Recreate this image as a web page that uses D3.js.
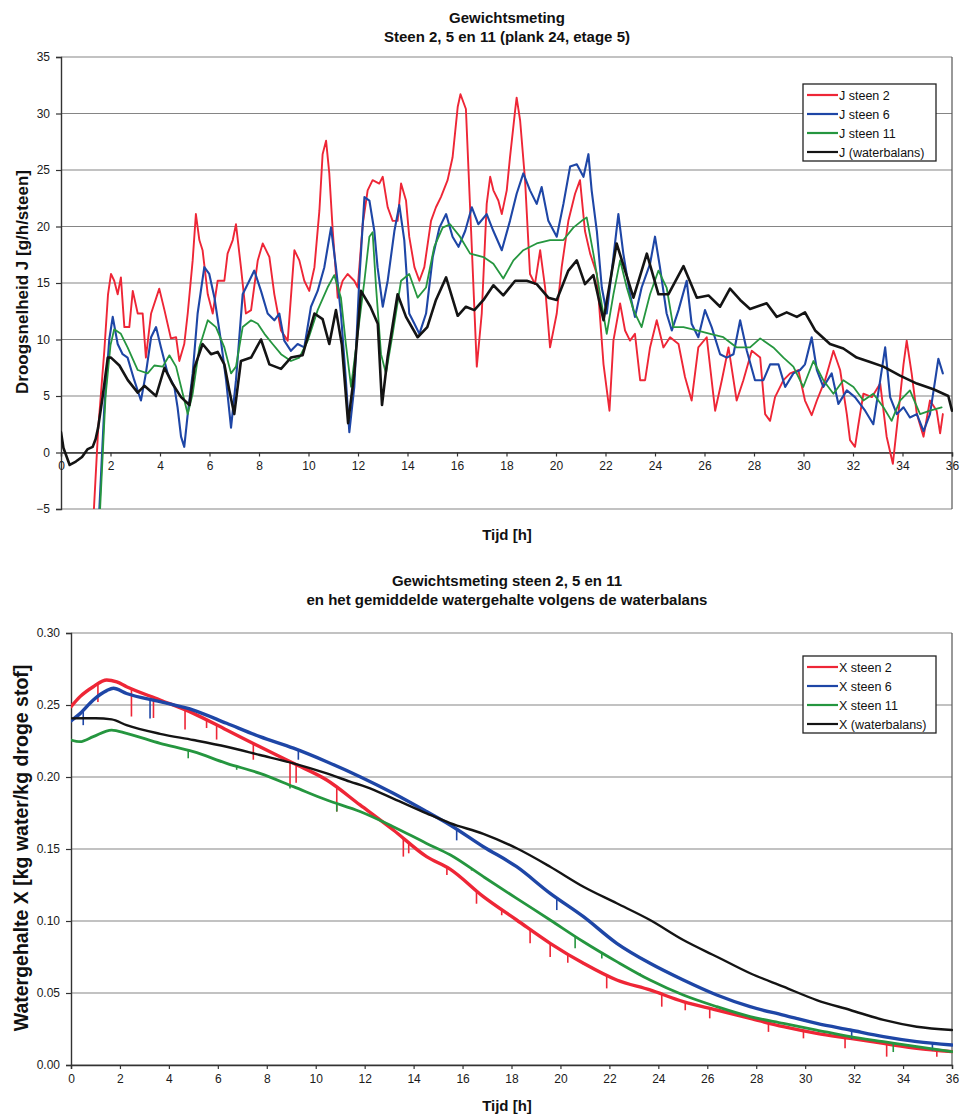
<!DOCTYPE html>
<html>
<head>
<meta charset="utf-8">
<script src="https://cdn.jsdelivr.net/npm/d3@7"></script>
<style>
  body { margin: 0; background: #fff; }
  text { font-family: "Liberation Sans", Arial, sans-serif; }
</style>
</head>
<body>
<svg id="chart" width="965" height="1116"></svg>
<script>
// ---------- Droogsnelheid J [g/h/steen] per tijdstip [h] ----------
const jSteen2 = [[1.33,-5],[1.5,2],[1.75,9],[1.9,14],[2.02,15.8],[2.15,15.2],[2.29,14.0],[2.42,15.5],[2.56,11.1],[2.76,11.1],[2.9,14.3],[3.1,12.3],[3.3,12.3],[3.43,8.4],[3.64,12.3],[3.97,14.5],[4.18,12.6],[4.44,10.1],[4.65,10.2],[4.78,8.1],[4.98,9.6],[5.12,12.3],[5.32,17.0],[5.45,21.1],[5.59,18.8],[5.72,17.9],[5.93,14.0],[6.13,12.3],[6.33,15.2],[6.6,15.2],[6.73,17.6],[6.94,18.8],[7.07,20.2],[7.27,16.4],[7.47,12.3],[7.68,12.6],[7.95,17.0],[8.15,18.5],[8.42,17.3],[8.62,14.0],[8.89,10.8],[9.16,9.9],[9.43,17.9],[9.63,17.0],[9.83,15.2],[10.03,14.3],[10.24,16.4],[10.44,21.4],[10.57,26.4],[10.71,27.6],[10.84,24.7],[10.98,19.6],[11.18,13.7],[11.38,15.2],[11.58,15.8],[11.85,15.2],[11.99,14.6],[12.19,20.2],[12.39,23.2],[12.59,24.1],[12.86,23.8],[13.0,24.4],[13.2,21.7],[13.4,20.5],[13.6,20.5],[13.74,23.8],[13.94,22.3],[14.07,19.1],[14.28,16.4],[14.48,15.2],[14.68,16.4],[14.95,20.5],[15.15,21.7],[15.35,22.6],[15.62,24.1],[15.82,26.1],[16.03,30.6],[16.14,31.7],[16.36,30.4],[16.57,19.6],[16.8,7.6],[17.0,12.3],[17.2,22.0],[17.34,24.4],[17.47,23.2],[17.67,22.3],[17.81,21.1],[18.01,23.2],[18.14,26.1],[18.35,30.3],[18.41,31.4],[18.55,29.4],[18.75,24.1],[18.95,15.8],[19.15,14.9],[19.36,17.9],[19.56,14.6],[19.76,9.3],[20.03,12.3],[20.23,16.4],[20.5,20.5],[20.77,22.9],[20.97,24.1],[21.17,19.6],[21.38,17.6],[21.65,15.8],[21.92,7.8],[22.16,3.7],[22.32,9.9],[22.59,13.2],[22.79,10.8],[22.99,9.9],[23.19,10.5],[23.4,6.4],[23.6,6.4],[23.8,9.3],[24.07,11.7],[24.34,9.3],[24.61,10.2],[24.95,9.6],[25.21,6.7],[25.48,4.6],[25.75,9.3],[26.09,10.2],[26.43,3.7],[26.7,6.4],[26.97,9.3],[27.3,4.6],[27.57,6.4],[27.91,9.0],[28.25,8.4],[28.45,3.4],[28.65,2.8],[28.85,4.9],[29.19,6.4],[29.46,7.0],[29.79,7.3],[30.06,4.6],[30.33,3.3],[30.54,4.6],[30.87,6.4],[31.21,9.0],[31.48,7.3],[31.75,3.4],[31.88,1.1],[32.08,0.5],[32.22,2.5],[32.42,5.2],[32.76,4.9],[33.1,6.1],[33.36,1.4],[33.61,-1.0],[33.83,3.4],[34.04,7.8],[34.17,9.9],[34.37,7.0],[34.58,3.4],[34.85,1.4],[35.11,4.6],[35.38,3.7],[35.52,1.7],[35.63,3.4]];

const jSteen6 = [[1.55,-5],[1.75,4],[1.95,10],[2.09,12.0],[2.29,9.6],[2.49,8.7],[2.69,8.4],[2.96,6.4],[3.23,4.6],[3.43,7.0],[3.64,10.2],[3.84,11.1],[4.04,9.3],[4.31,7.0],[4.58,5.8],[4.71,4.0],[4.85,1.4],[4.98,0.5],[5.12,3.4],[5.32,7.0],[5.52,12.3],[5.79,16.4],[5.99,15.8],[6.2,13.7],[6.46,9.9],[6.67,6.4],[6.87,2.2],[7.07,6.4],[7.34,14.0],[7.61,15.2],[7.81,16.1],[8.08,14.3],[8.35,12.3],[8.62,11.7],[8.82,12.3],[9.02,9.9],[9.29,9.0],[9.56,9.6],[9.83,9.3],[10.1,12.9],[10.37,14.3],[10.64,16.4],[10.91,19.9],[11.11,16.4],[11.31,12.3],[11.51,6.4],[11.65,1.8],[11.85,5.8],[12.05,15.2],[12.26,22.6],[12.46,22.3],[12.66,19.6],[12.79,16.4],[13.0,12.9],[13.2,15.2],[13.47,19.6],[13.67,21.9],[13.87,18.8],[14.07,12.3],[14.28,11.4],[14.48,10.5],[14.75,12.3],[15.02,17.3],[15.29,19.9],[15.56,21.1],[15.82,19.1],[16.06,18.2],[16.33,19.6],[16.6,21.7],[16.86,20.2],[17.2,21.1],[17.47,19.6],[17.81,17.9],[18.14,20.5],[18.41,22.9],[18.68,24.7],[18.95,23.2],[19.22,22.0],[19.42,23.5],[19.69,20.5],[20.03,19.1],[20.3,22.0],[20.57,25.3],[20.84,25.5],[21.11,24.4],[21.31,26.4],[21.44,23.2],[21.65,19.6],[21.85,14.6],[22.05,12.3],[22.32,17.3],[22.52,21.1],[22.72,17.6],[22.99,14.0],[23.19,12.0],[23.46,14.6],[23.8,16.7],[24.0,19.1],[24.2,16.4],[24.47,12.3],[24.68,10.8],[24.95,12.6],[25.28,15.2],[25.48,11.4],[25.75,10.2],[26.02,12.6],[26.29,11.1],[26.63,8.7],[26.9,8.4],[27.17,8.7],[27.44,11.7],[27.71,9.0],[28.04,6.4],[28.38,6.4],[28.65,7.8],[28.99,7.8],[29.26,5.8],[29.59,7.0],[29.86,7.3],[30.06,7.8],[30.33,10.2],[30.54,7.3],[30.8,5.8],[31.14,7.0],[31.41,4.3],[31.75,5.5],[32.08,4.9],[32.49,3.7],[32.82,2.5],[33.1,6.4],[33.3,9.3],[33.5,4.9],[33.77,3.4],[34.04,4.0],[34.3,3.1],[34.58,3.4],[34.85,1.9],[35.11,3.4],[35.32,6.4],[35.45,8.3],[35.63,7.0]];

const jSteen11 = [[1.58,-5],[1.8,5],[2.0,9.5],[2.15,10.9],[2.42,10.5],[2.69,9.3],[3.1,7.3],[3.5,7.0],[3.77,7.7],[4.11,7.6],[4.38,8.6],[4.65,7.6],[4.92,5.2],[5.12,3.4],[5.32,5.2],[5.59,9.3],[5.93,11.7],[6.26,11.1],[6.6,9.3],[6.87,7.0],[7.07,7.6],[7.34,11.1],[7.68,11.7],[7.95,11.4],[8.22,10.5],[8.55,9.6],[8.89,8.7],[9.29,8.1],[9.63,8.4],[9.97,9.9],[10.37,12.6],[10.77,14.6],[11.04,15.7],[11.31,13.7],[11.51,9.6],[11.72,5.8],[11.99,10.5],[12.26,15.2],[12.46,19.1],[12.59,19.5],[12.73,14.6],[12.93,8.7],[13.13,7.0],[13.4,10.5],[13.74,15.2],[14.07,15.8],[14.41,13.7],[14.75,14.6],[15.08,18.2],[15.42,19.9],[15.72,20.2],[16.12,19.1],[16.53,17.6],[17.07,17.3],[17.47,16.7],[17.87,15.4],[18.28,17.0],[18.68,17.9],[19.22,18.5],[19.76,18.8],[20.3,18.8],[20.7,19.9],[21.04,20.5],[21.24,20.8],[21.51,17.6],[21.78,14.0],[22.05,10.5],[22.32,14.0],[22.59,17.0],[22.86,14.6],[23.13,12.6],[23.46,11.1],[23.8,14.0],[24.14,16.1],[24.47,14.6],[24.74,11.1],[25.15,11.1],[25.69,10.8],[26.23,10.5],[26.76,10.2],[27.3,9.3],[27.84,9.3],[28.25,10.1],[28.78,9.3],[29.19,8.4],[29.59,7.6],[29.99,5.8],[30.4,8.1],[30.8,6.4],[31.21,5.2],[31.61,6.4],[32.02,5.8],[32.42,4.6],[32.82,5.2],[33.23,4.0],[33.56,2.8],[33.9,4.6],[34.3,5.5],[34.71,3.4],[35.11,3.7],[35.58,4.0]];

const jWaterbalans = [[0,1.8],[0.1,0.4],[0.35,-1.1],[0.6,-0.8],[0.85,-0.4],[1.08,0.3],[1.28,0.5],[1.4,1.2],[1.5,2.2],[1.68,4.9],[1.89,8.4],[2.02,8.4],[2.36,7.7],[2.7,6.4],[3.1,5.3],[3.37,5.9],[3.84,5.0],[4.18,7.5],[4.5,6.1],[4.85,4.9],[5.19,4.2],[5.39,7.5],[5.72,9.6],[6.06,8.7],[6.33,8.9],[6.6,7.8],[6.8,5.5],[7.0,3.4],[7.27,8.1],[7.68,8.4],[8.08,10.0],[8.42,7.8],[8.89,7.4],[9.29,8.4],[9.76,8.6],[10.24,12.3],[10.57,11.8],[10.84,9.6],[11.11,12.6],[11.35,9.5],[11.6,2.6],[11.85,7.0],[12.12,14.3],[12.5,12.9],[12.8,11.4],[12.97,4.2],[13.2,8.5],[13.6,14.0],[13.94,12.0],[14.41,10.2],[14.8,11.1],[15.15,13.5],[15.56,15.5],[16.03,12.1],[16.36,12.9],[16.7,12.6],[17.07,13.5],[17.47,14.8],[17.87,13.9],[18.35,15.2],[18.82,15.2],[19.22,14.9],[19.69,13.7],[20.03,13.5],[20.5,16.1],[20.84,17.0],[21.17,14.9],[21.51,15.7],[21.92,11.7],[22.45,18.5],[23.13,13.7],[23.67,17.6],[24.14,14.0],[24.54,14.0],[25.15,16.5],[25.69,13.7],[26.16,13.9],[26.63,12.9],[27.03,14.5],[27.44,13.5],[27.84,12.7],[28.51,13.2],[28.92,12.0],[29.32,12.4],[29.73,12.0],[30.06,12.4],[30.47,10.8],[31.07,9.6],[31.61,9.2],[32.15,8.4],[32.69,8.0],[33.23,7.6],[33.9,6.8],[34.58,6.1],[35.25,5.6],[35.85,5.0],[36.0,3.7]];

// ---------- Watergehalte X [kg water/kg droge stof] per tijdstip [h] ----------
const xSteen2 = [[0,0.2488],[0.37,0.2558],[0.91,0.2627],[1.46,0.2674],[1.87,0.266],[2.27,0.2627],[3.64,0.2535],[5.0,0.2442],[6.36,0.2326],[7.72,0.221],[9.09,0.2095],[10.45,0.1979],[11.81,0.1806],[13.17,0.1632],[14.53,0.1447],[15.49,0.136],[16.85,0.1169],[18.21,0.1007],[19.58,0.0845],[20.94,0.0706],[22.3,0.059],[23.66,0.0521],[25.02,0.044],[26.39,0.0382],[27.75,0.0324],[29.11,0.0266],[30.47,0.022],[31.84,0.0185],[33.2,0.015],[34.56,0.0116],[36.0,0.0093]];
const xSteen6 = [[0,0.239],[0.37,0.244],[0.91,0.2535],[1.46,0.26],[1.73,0.2616],[2.27,0.258],[3.64,0.2523],[5.0,0.2465],[6.36,0.2373],[7.72,0.228],[9.09,0.22],[10.45,0.2106],[11.81,0.2002],[13.17,0.1887],[14.53,0.176],[15.49,0.1667],[16.85,0.1516],[18.21,0.1377],[19.58,0.1192],[20.94,0.103],[22.3,0.0845],[23.66,0.0706],[25.02,0.059],[26.39,0.0486],[27.75,0.0405],[29.11,0.0347],[30.47,0.0289],[31.84,0.0243],[33.2,0.0197],[34.56,0.0162],[36.0,0.0139]];
const xSteen11 = [[0,0.2257],[0.37,0.2245],[0.91,0.228],[1.66,0.2326],[2.27,0.2303],[3.64,0.2234],[5.0,0.2176],[6.36,0.2095],[7.72,0.2025],[9.09,0.1933],[10.45,0.184],[11.81,0.176],[13.17,0.1655],[14.53,0.1539],[15.49,0.146],[16.85,0.1308],[18.21,0.1157],[19.58,0.1007],[20.94,0.0856],[22.3,0.0718],[23.66,0.059],[25.02,0.0486],[26.39,0.0405],[27.75,0.0336],[29.11,0.0289],[30.47,0.0243],[31.84,0.0197],[33.2,0.0162],[34.56,0.0127],[36.0,0.0093]];
const xWaterbalans = [[0,0.2407],[0.5,0.2408],[1.0,0.2408],[1.66,0.24],[2.27,0.236],[3.64,0.23],[5.0,0.2257],[6.36,0.221],[7.72,0.2153],[9.09,0.2095],[10.45,0.2025],[11.4,0.1968],[12.08,0.193],[13.17,0.185],[14.53,0.1748],[15.49,0.168],[16.85,0.1605],[18.21,0.1505],[19.58,0.1377],[20.94,0.1238],[22.3,0.1123],[23.66,0.1007],[25.02,0.0868],[26.39,0.0752],[27.75,0.0637],[29.11,0.0544],[30.47,0.0451],[31.84,0.0382],[33.2,0.0313],[34.56,0.0266],[36.0,0.0243]];

// short downward excursions of the weighed stones: [tijd, minimum X]
const xSteen2Dips = [[1.1,0.252],[2.47,0.242],[3.37,0.241],[4.66,0.233],[5.54,0.234],[5.95,0.226],[7.45,0.212],[8.95,0.193],[9.2,0.196],[10.86,0.176],[13.58,0.1447],[13.8,0.147],[15.36,0.132],[16.57,0.112],[17.6,0.104],[18.76,0.0845],[19.58,0.075],[20.3,0.071],[21.89,0.0532],[24.14,0.0405],[25.1,0.038],[26.1,0.0324],[28.5,0.023],[29.93,0.0185],[31.63,0.0116],[33.33,0.0058],[35.38,0.0058]];
const xSteen6Dips = [[0.5,0.236],[3.23,0.2407],[9.29,0.212],[15.76,0.156],[19.85,0.1076],[31.9,0.018],[35.2,0.010]];
const xSteen11Dips = [[4.79,0.213],[6.77,0.205],[8.95,0.192],[10.86,0.176],[16.37,0.135],[20.19,0.094],[20.6,0.081],[21.69,0.074],[23.25,0.0637],[33.6,0.009]];

// ---------- axes and labels ----------
const hourTicks = [0,2,4,6,8,10,12,14,16,18,20,22,24,26,28,30,32,34,36];
const jTicks = [-5,0,5,10,15,20,25,30,35];
const xTicks = [0,0.05,0.10,0.15,0.20,0.25,0.30];
const jLegend = ["J steen 2","J steen 6","J steen 11","J (waterbalans)"];
const xLegend = ["X steen 2","X steen 6","X steen 11","X (waterbalans)"];
const seriesColors = ["#ee2636","#1e46a6","#25963f","#141414"];
const seriesWidths = [1.9, 2.1, 1.8, 2.6];

const svg = d3.select("#chart");

function panel(cfg) {
  const x = d3.scaleLinear().domain([0, 36]).range([cfg.left, cfg.right]);
  const y = d3.scaleLinear().domain(cfg.yDomain).range([cfg.bottom, cfg.top]);
  const g = svg.append("g");

  // titles
  cfg.title.forEach((t, i) => {
    g.append("text").attr("x", 507).attr("y", cfg.titleY + i * 19)
      .attr("text-anchor", "middle").attr("font-size", 15).attr("font-weight", "bold")
      .attr("fill", "#111").text(t);
  });

  // horizontal gridlines
  g.selectAll(".grid").data(cfg.yTicks).join("line")
    .attr("x1", cfg.left).attr("x2", cfg.right)
    .attr("y1", d => y(d)).attr("y2", d => y(d))
    .attr("stroke", "#858585").attr("stroke-width", 1.1);
  // right border
  g.append("line").attr("x1", cfg.right).attr("x2", cfg.right)
    .attr("y1", cfg.top).attr("y2", cfg.bottom).attr("stroke", "#555").attr("stroke-width", 1.2);

  // y axis
  const yAxis = d3.axisLeft(y).tickValues(cfg.yTicks).tickSize(5).tickPadding(6).tickFormat(cfg.yFormat);
  const ya = g.append("g").attr("transform", `translate(${cfg.left},0)`).call(yAxis);
  ya.select(".domain").attr("stroke", "#333").attr("stroke-width", 1.4);
  ya.selectAll(".tick line").attr("stroke", "#333").attr("stroke-width", 1.2);
  ya.selectAll("text").attr("font-size", 12).attr("fill", "#1a1a1a")
    .attr("font-family", "Liberation Sans, Arial, sans-serif");

  // x axis on the zero line
  const xAxis = d3.axisBottom(x).tickValues(hourTicks).tickSize(4).tickPadding(5).tickFormat(d3.format("d"));
  const xa = g.append("g").attr("transform", `translate(0,${y(cfg.xAxisAt)})`).call(xAxis);
  xa.select(".domain").attr("stroke", "#333").attr("stroke-width", 1.4);
  xa.selectAll(".tick line").attr("stroke", "#333").attr("stroke-width", 1.2);
  xa.selectAll("text").attr("font-size", 12).attr("fill", "#1a1a1a")
    .attr("font-family", "Liberation Sans, Arial, sans-serif");

  // axis titles
  g.append("text").attr("x", 507).attr("y", cfg.xTitleY).attr("text-anchor", "middle")
    .attr("font-size", 15).attr("font-weight", "bold").attr("fill", "#111").text("Tijd [h]");
  g.append("text").attr("transform", `translate(${cfg.yTitleX},${cfg.yTitleMid}) rotate(-90)`)
    .attr("text-anchor", "middle").attr("font-size", cfg.yTitleSize).attr("font-weight", "bold")
    .attr("fill", "#111").text(cfg.yTitle);

  // data lines, clipped to the plot area
  const clipId = "clip" + cfg.id;
  svg.append("clipPath").attr("id", clipId).append("rect")
    .attr("x", cfg.left).attr("y", cfg.top - 2)
    .attr("width", cfg.right - cfg.left + 1).attr("height", cfg.bottom - cfg.top + 2);
  const lines = g.append("g").attr("clip-path", `url(#${clipId})`);
  const line = d3.line().x(d => x(d[0])).y(d => y(d[1])).curve(cfg.curve);
  const at = (s, t) => {
    const i = Math.max(1, d3.bisector(d => d[0]).left(s, t));
    const a = s[i - 1], b = s[Math.min(i, s.length - 1)];
    const f = b[0] === a[0] ? 0 : (t - a[0]) / (b[0] - a[0]);
    return a[1] + f * (b[1] - a[1]);
  };
  cfg.series.forEach((s, i) => {
    lines.append("path").datum(s).attr("d", line).attr("fill", "none")
      .attr("stroke", seriesColors[i]).attr("stroke-width", cfg.widths[i])
      .attr("stroke-linejoin", "round").attr("stroke-linecap", "round");
    if (cfg.dips && cfg.dips[i]) {
      lines.selectAll(null).data(cfg.dips[i]).join("line")
        .attr("x1", d => x(d[0])).attr("x2", d => x(d[0]))
        .attr("y1", d => y(at(s, d[0]))).attr("y2", d => y(d[1]))
        .attr("stroke", seriesColors[i]).attr("stroke-width", 1.6);
    }
  });

  // legend
  const lg = g.append("g");
  lg.append("rect").attr("x", cfg.legend.x).attr("y", cfg.legend.y)
    .attr("width", cfg.legend.w).attr("height", 77)
    .attr("fill", "#fff").attr("stroke", "#222").attr("stroke-width", 1.3);
  cfg.legendLabels.forEach((lab, i) => {
    const ry = cfg.legend.y + 11 + i * 19;
    lg.append("line").attr("x1", cfg.legend.x + 4).attr("x2", cfg.legend.x + 35)
      .attr("y1", ry).attr("y2", ry).attr("stroke", seriesColors[i]).attr("stroke-width", 2.2);
    lg.append("text").attr("x", cfg.legend.x + 36).attr("y", ry + 4.5)
      .attr("font-size", 12.5).attr("fill", "#111").text(lab);
  });
}

panel({
  id: "J", left: 61, right: 952, top: 57, bottom: 509,
  yDomain: [-5, 35], yTicks: jTicks, yFormat: d3.format("d"), xAxisAt: 0,
  title: ["Gewichtsmeting", "Steen 2, 5 en 11 (plank 24, etage 5)"], titleY: 23,
  xTitleY: 540, yTitle: "Droogsnelheid J [g/h/steen]", yTitleX: 28, yTitleMid: 282, yTitleSize: 17,
  series: [jSteen2, jSteen6, jSteen11, jWaterbalans], widths: seriesWidths,
  curve: d3.curveLinear,
  legend: { x: 803, y: 84, w: 133 }, legendLabels: jLegend
});

panel({
  id: "X", left: 71, right: 952, top: 633, bottom: 1065,
  yDomain: [0, 0.30], yTicks: xTicks, yFormat: d3.format(".2f"), xAxisAt: 0,
  title: ["Gewichtsmeting steen 2, 5 en 11", "en het gemiddelde watergehalte volgens de waterbalans"], titleY: 586,
  xTitleY: 1111, yTitle: "Watergehalte X [kg water/kg droge stof]", yTitleX: 28, yTitleMid: 848, yTitleSize: 19.5,
  series: [xSteen2, xSteen6, xSteen11, xWaterbalans], widths: [3.4, 3.4, 2.8, 2.4],
  dips: [xSteen2Dips, xSteen6Dips, xSteen11Dips, null],
  curve: d3.curveMonotoneX,
  legend: { x: 803, y: 656, w: 133 }, legendLabels: xLegend
});
</script>
</body>
</html>
